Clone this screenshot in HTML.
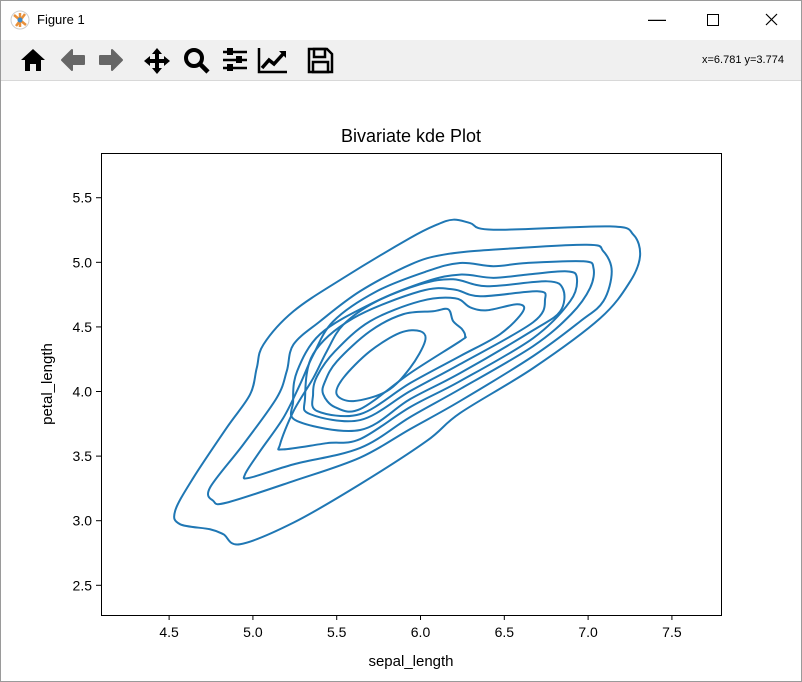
<!DOCTYPE html>
<html><head><meta charset="utf-8"><style>
body{margin:0;width:802px;height:682px;overflow:hidden;background:#fff;font-family:"Liberation Sans",sans-serif;}
#win{position:absolute;left:0;top:0;width:800px;height:680px;border:1px solid #9a9a9a;background:#fff;}
#titlebar{position:absolute;left:0;top:0;width:800px;height:39px;background:#fff;}
#toolbar{position:absolute;left:0;top:39px;width:800px;height:40px;background:#f0f0f0;border-bottom:1px solid #d8d8d8;}
.tb{position:absolute;top:6px;}
</style></head><body>
<div id="win">
<div id="titlebar">
  <svg style="position:absolute;left:9px;top:9px" width="20" height="20"><circle cx="10" cy="10" r="9" fill="#fff" stroke="#ccc"/><path d="M4 5 L16 15 M15 4 L6 16 M10 3 L10 17" stroke="#e8903a" stroke-width="2.5"/><circle cx="10" cy="10" r="2.5" fill="#3a8acb"/></svg>
  <span style="position:absolute;left:36px;top:11px;font-size:13px;color:#000">Figure 1</span>
  <span style="position:absolute;left:647px;top:8px;font-size:18px">&#8212;</span>
  <div style="position:absolute;left:706px;top:13px;width:10px;height:10px;border:1px solid #000"></div>
  <svg style="position:absolute;left:764px;top:12px" width="13" height="13"><path d="M1 1L12 12M12 1L1 12" stroke="#000" stroke-width="1.2"/></svg>
</div>
<div id="toolbar">
  <svg class="tb" style="left:18px" width="28" height="28"><path d="M14 3 L26 14 L22 14 L22 25 L17 25 L17 18 L11 18 L11 25 L6 25 L6 14 L2 14 Z" fill="#000"/></svg>
  <svg class="tb" style="left:58px" width="28" height="28"><path d="M3 14 L13 4 L13 10 L25 10 L25 18 L13 18 L13 24 Z" fill="#666" stroke="#666" stroke-linejoin="round" stroke-width="2"/></svg>
  <svg class="tb" style="left:96px" width="28" height="28"><path d="M25 14 L15 4 L15 10 L3 10 L3 18 L15 18 L15 24 Z" fill="#666" stroke="#666" stroke-linejoin="round" stroke-width="2"/></svg>
  <svg class="tb" style="left:141px" width="30" height="30"><path d="M15 2 L20 8 L17 8 L17 13 L22 13 L22 10 L28 15 L22 20 L22 17 L17 17 L17 22 L20 22 L15 28 L10 22 L13 22 L13 17 L8 17 L8 20 L2 15 L8 10 L8 13 L13 13 L13 8 L10 8 Z" fill="#000"/></svg>
  <svg class="tb" style="left:181px" width="30" height="30"><circle cx="12" cy="12" r="8" fill="none" stroke="#000" stroke-width="4"/><path d="M18 18 L26 26" stroke="#000" stroke-width="4.5"/></svg>
  <svg class="tb" style="left:220px" width="28" height="28"><path d="M2 6H26M2 14H26M2 22H26" stroke="#000" stroke-width="2.5"/><rect x="6" y="2" width="6" height="7" fill="#000"/><rect x="15" y="10" width="6" height="7" fill="#000"/><rect x="6" y="18" width="6" height="7" fill="#000"/></svg>
  <svg class="tb" style="left:256px" width="32" height="28"><path d="M2 2 V26 H30" stroke="#000" stroke-width="2.5" fill="none"/><path d="M5 22 L12 14 L17 18 L27 7" stroke="#000" stroke-width="3.5" fill="none"/><path d="M22 5 L29 5 L29 12 Z" fill="#000"/></svg>
  <svg class="tb" style="left:305px" width="28" height="28"><path d="M3 3 H21 L26 8 V26 H3 Z" fill="none" stroke="#000" stroke-width="2.5"/><rect x="8" y="3" width="11" height="8" fill="none" stroke="#000" stroke-width="2.5"/><rect x="7" y="16" width="15" height="10" fill="none" stroke="#000" stroke-width="2.5"/></svg>
  <span style="position:absolute;left:701px;top:14px;font-size:11px;color:#000">x=6.781 y=3.774</span>
</div>
</div>
<svg id="chart" style="position:absolute;left:0;top:0" width="802" height="682"></svg>
<script>
const xTicks=[4.5,5.0,5.5,6.0,6.5,7.0,7.5];
const yTicks=[2.5,3.0,3.5,4.0,4.5,5.0,5.5];
const xDomain=[4.0936,7.7929];
const yDomain=[2.2701,5.8462];
const c1x=[4.536,4.565,4.744,4.824,4.923,5.242,5.639,6.037,6.236,6.672,7.072,7.250,7.310,7.270,7.131,6.435,6.296,6.196,6.097,5.938,5.540,5.242,5.063,5.023,4.983,4.844,4.645];
const c1y=[3.076,2.973,2.934,2.895,2.818,2.985,3.282,3.617,3.833,4.181,4.567,4.850,5.050,5.214,5.278,5.252,5.304,5.330,5.291,5.188,4.879,4.621,4.364,4.183,3.977,3.720,3.333];
const c2x=[4.744,4.764,4.844,5.242,5.639,5.938,6.236,6.672,6.950,7.091,7.141,7.091,6.992,6.435,6.137,5.938,5.639,5.401,5.242,5.202,5.142,4.943];
const c2y=[3.256,3.153,3.140,3.307,3.488,3.709,3.926,4.274,4.540,4.699,4.930,5.085,5.136,5.098,5.059,4.982,4.776,4.544,4.364,4.158,3.951,3.591];
const c3x=[4.953,4.983,5.242,5.640,5.938,6.236,6.672,6.900,7.012,7.032,6.972,6.634,6.435,6.236,6.037,5.739,5.480,5.361,5.281,5.182,5.043];
const c3y=[3.359,3.333,3.436,3.563,3.802,4.019,4.351,4.600,4.802,4.956,5.008,4.995,4.970,4.995,4.930,4.776,4.544,4.286,4.055,3.797,3.539];
const c4x=[5.162,5.182,5.441,5.640,5.938,6.236,6.672,6.893,6.933,6.873,6.634,6.435,6.236,6.037,5.739,5.540,5.441,5.361,5.242];
const c4y=[3.591,3.552,3.600,3.632,3.879,4.080,4.413,4.699,4.879,4.930,4.905,4.880,4.905,4.853,4.699,4.518,4.312,4.106,3.848];
const c5x=[5.240,5.264,5.640,5.938,6.236,6.672,6.833,6.851,6.755,6.397,6.195,5.998,5.699,5.401,5.264];
const c5y=[3.926,3.771,3.702,3.941,4.142,4.474,4.620,4.791,4.853,4.815,4.869,4.830,4.675,4.444,4.158];
const c6x=[5.311,5.341,5.640,5.938,6.236,6.672,6.743,6.696,6.356,6.195,5.998,5.598,5.359];
const c6y=[3.949,3.825,3.779,4.003,4.212,4.536,4.714,4.776,4.737,4.791,4.776,4.567,4.289];
const c7x=[5.359,5.383,5.640,5.938,6.236,6.475,6.612,6.577,6.397,6.296,6.206,5.998,5.699,5.490,5.383];
const c7y=[3.980,3.849,3.825,4.065,4.274,4.444,4.621,4.675,4.629,4.652,4.722,4.699,4.544,4.312,4.119];
const c8x=[5.419,5.490,5.640,5.938,6.236,6.266,6.248,6.195,6.165,6.075,5.896,5.699,5.502,5.431];
const c8y=[3.980,3.879,3.864,4.142,4.389,4.428,4.482,4.544,4.637,4.621,4.598,4.467,4.235,4.080];
const c9x=[5.500,5.600,5.799,5.938,6.027,5.998,5.878,5.699,5.540];
const c9y=[3.978,3.926,4.003,4.183,4.389,4.467,4.454,4.312,4.106];
const contoursX=[c1x,c2x,c3x,c4x,c5x,c6x,c7x,c8x,c9x];
const contoursY=[c1y,c2y,c3y,c4y,c5y,c6y,c7y,c8y,c9y];

const L=101,R=721,T=153,B=615;
const sx=v=>L+(v-xDomain[0])/(xDomain[1]-xDomain[0])*(R-L);
const sy=v=>B-(v-yDomain[0])/(yDomain[1]-yDomain[0])*(B-T);
const svg=document.getElementById('chart');
const NS='http://www.w3.org/2000/svg';
function mk(tag,attrs,parent){const e=document.createElementNS(NS,tag);for(const k in attrs)e.setAttribute(k,attrs[k]);(parent||svg).appendChild(e);return e;}

const title=mk('text',{x:411,y:142,'text-anchor':'middle','font-size':'18','font-family':'Liberation Sans, sans-serif'});
title.textContent='Bivariate kde Plot';



const frame=mk('rect',{x:L+0.5,y:T+0.5,width:R-L,height:B-T,fill:'none',stroke:'#000','stroke-width':1});



xTicks.forEach(t=>{
  const x=sx(t);
  const tk=mk('line',{x1:x,x2:x,y1:B,y2:B+5,stroke:'#000'});
  
  
  const lb=mk('text',{x:x,y:B+22,'text-anchor':'middle','font-size':'14','font-family':'Liberation Sans, sans-serif'});
  lb.textContent=t.toFixed(1);
  
  
});
yTicks.forEach(t=>{
  const y=sy(t);
  const tk=mk('line',{x1:L-5,x2:L,y1:y,y2:y,stroke:'#000'});
  
  
  const lb=mk('text',{x:L-9,y:y+5,'text-anchor':'end','font-size':'14','font-family':'Liberation Sans, sans-serif'});
  lb.textContent=t.toFixed(1);
  
  
});
const xl=mk('text',{x:411,y:666,'text-anchor':'middle','font-size':'15','font-family':'Liberation Sans, sans-serif'});
xl.textContent='sepal_length';


const yl=mk('text',{x:52,y:384,'text-anchor':'middle','font-size':'15','font-family':'Liberation Sans, sans-serif',transform:'rotate(-90 52 384)'});
yl.textContent='petal_length';



function closedPath(px,py){
  const n=px.length;let d='M'+px[0]+' '+py[0];
  for(let i=0;i<n;i++){
    const p0=(i-1+n)%n,p1=i,p2=(i+1)%n,p3=(i+2)%n;
    const a1=px[p1]+(px[p2]-px[p0])/6,b1=py[p1]+(py[p2]-py[p0])/6;
    const a2=px[p2]-(px[p3]-px[p1])/6,b2=py[p2]-(py[p3]-py[p1])/6;
    d+=' C'+a1+' '+b1+' '+a2+' '+b2+' '+px[p2]+' '+py[p2];
  }
  return d+'Z';
}
contoursX.forEach((cx,i)=>{
  const px=cx.map(sx),py=contoursY[i].map(sy);
  const p=mk('path',{d:closedPath(px,py),fill:'none',stroke:'#1f77b4','stroke-width':2,'stroke-linejoin':'round'});
  
  
});
</script>
</body></html>
